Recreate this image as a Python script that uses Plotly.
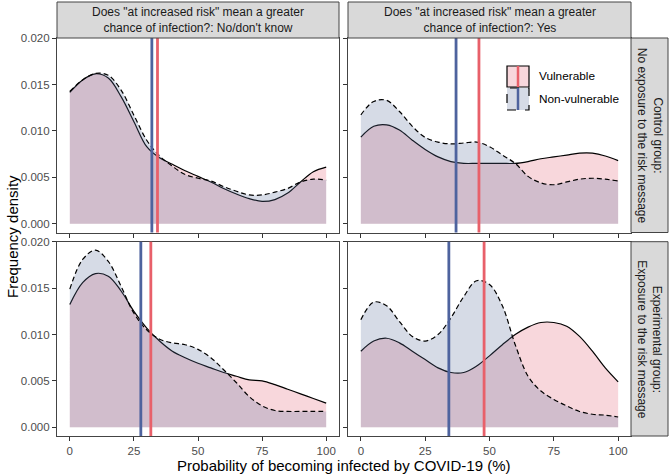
import plotly.graph_objects as go

# ---------------- data ----------------
x_grid = [0, 5, 10, 15, 20, 25, 30, 35, 40, 45, 50, 55, 60, 65, 70, 75, 80, 85, 90, 95, 100]

# Control group, No/don't know
tl_vul = [0.01415, 0.0155, 0.01616, 0.0157, 0.0137, 0.0110, 0.0083, 0.0071, 0.0064, 0.0057, 0.0051,
          0.0045, 0.0038, 0.0032, 0.0027, 0.0024, 0.0026, 0.0033, 0.0045, 0.0056, 0.0061]
tl_non = [0.01425, 0.0155, 0.0162, 0.0160, 0.0144, 0.0117, 0.0090, 0.0073, 0.0062, 0.0053, 0.0049,
          0.0046, 0.0040, 0.0035, 0.0031, 0.0031, 0.0034, 0.0038, 0.0045, 0.0048, 0.0047]
# Control group, Yes
tr_vul = [0.00934, 0.0105, 0.01066, 0.0101, 0.0090, 0.0080, 0.0072, 0.0067, 0.0065, 0.0065, 0.0065,
          0.0065, 0.0065, 0.0067, 0.0070, 0.0072, 0.0074, 0.0076, 0.0076, 0.0073, 0.0068]
tr_non = [0.01174, 0.01318, 0.0133, 0.0121, 0.0105, 0.0093, 0.0088, 0.0086, 0.0087, 0.0088, 0.0083,
          0.0074, 0.0065, 0.0051, 0.0044, 0.0042, 0.0045, 0.0048, 0.0049, 0.0048, 0.0046]
# Experimental group, No/don't know
bl_vul = [0.01324, 0.0156, 0.01658, 0.0163, 0.0147, 0.0125, 0.0107, 0.0093, 0.0082, 0.0075, 0.0069,
          0.0064, 0.0059, 0.0055, 0.0051, 0.0050, 0.0046, 0.0041, 0.0036, 0.0031, 0.0026]
bl_non = [0.0149, 0.0181, 0.0191, 0.0179, 0.0152, 0.0123, 0.0105, 0.0095, 0.0091, 0.0089, 0.0084,
          0.0075, 0.0062, 0.0048, 0.0033, 0.0023, 0.0018, 0.0017, 0.0017, 0.0017, 0.0017]
# Experimental group, Yes
br_vul = [0.0082, 0.0093, 0.0096, 0.0091, 0.0082, 0.0073, 0.0064, 0.0059, 0.0059, 0.0066, 0.0077,
          0.0089, 0.0100, 0.0108, 0.0113, 0.0113, 0.0109, 0.0098, 0.0082, 0.0064, 0.0049]
br_non = [0.0116, 0.0135, 0.0131, 0.0114, 0.0098, 0.0093, 0.0100, 0.0118, 0.0141, 0.0158, 0.0154,
          0.0131, 0.0089, 0.0055, 0.0039, 0.0030, 0.0023, 0.0017, 0.0014, 0.0013, 0.0011]

# means (vertical lines): [TL, TR, BL, BR]
mean_vul = [34.2, 45.9, 31.6, 47.9]
mean_non = [32.0, 37.0, 27.7, 34.2]

col_titles = ['Does "at increased risk" mean a greater<br>chance of infection?: No/don\'t know',
              'Does "at increased risk" mean a greater<br>chance of infection?: Yes']
row_titles = ['Control group:<br>No exposure to the risk message',
              'Experimental group:<br>Exposure to the risk message']
group_labels = ['Vulnerable', 'Non-vulnerable']
x_ticks = [0, 25, 50, 75, 100]
y_ticks = [0.0, 0.005, 0.010, 0.015, 0.020]
x_title = "Probability of becoming infected by COVID-19 (%)"
y_title = "Frequency density"

# ---------------- styling ----------------
FONT = "Liberation Sans, Arial, sans-serif"
VUL_FILL = "rgba(227,95,115,0.25)"
NON_FILL = "rgba(91,111,155,0.25)"
VUL_LINE = "#E8606A"
NON_LINE = "#4E639E"
BORDER = "#444444"

W, H = 670, 475
ML, MR, MT, MB = 57, 39, 38, 39
PW, PH = W - ML - MR, H - MT - MB
x_dom = [[0, 282 / PW], [291 / PW, 1]]
y_dom = [[(436 - 232.5) / PH, 1], [0, (436 - 241.7) / PH]]

fig = go.Figure()

panels = [(tl_vul, tl_non), (tr_vul, tr_non), (bl_vul, bl_non), (br_vul, br_non)]
for i, (vul, non) in enumerate(panels):
    xa = "x" if i == 0 else f"x{i+1}"
    ya = "y" if i == 0 else f"y{i+1}"
    for vals, fill, dash in [(vul, VUL_FILL, "solid"), (non, NON_FILL, "5px,3px")]:
        fig.add_trace(go.Scatter(x=x_grid, y=vals, xaxis=xa, yaxis=ya, mode="lines",
                                 fill="tozeroy", fillcolor=fill,
                                 line=dict(width=0, shape="spline", smoothing=1.0),
                                 hoverinfo="skip", showlegend=False))
        fig.add_trace(go.Scatter(x=x_grid, y=vals, xaxis=xa, yaxis=ya, mode="lines",
                                 line=dict(color="black", width=1.2, dash=dash,
                                           shape="spline", smoothing=1.0),
                                 hoverinfo="skip", showlegend=False))
    for m, c in [(mean_non[i], NON_LINE), (mean_vul[i], VUL_LINE)]:
        fig.add_shape(type="line", xref=xa, yref=f"{ya} domain", x0=m, x1=m, y0=0, y1=1,
                      line=dict(color=c, width=2.8), layer="above")

layout = dict(width=W, height=H, margin=dict(l=ML, r=MR, t=MT, b=MB),
              paper_bgcolor="white", plot_bgcolor="white", showlegend=False,
              font=dict(family=FONT, color="black"))
for i in range(4):
    r, c = divmod(i, 2)
    sx = "" if i == 0 else str(i + 1)
    layout[f"xaxis{sx}"] = dict(domain=x_dom[c], anchor=f"y{sx}", range=[-5, 105],
                               tickvals=x_ticks, showticklabels=(r == 1),
                               ticks="outside", ticklen=4, tickcolor="#333333", tickwidth=1,
                               tickfont=dict(size=11.5, color="#4D4D4D", family=FONT),
                               showline=True, mirror=True, linecolor=BORDER, linewidth=1.2,
                               showgrid=False, zeroline=False, fixedrange=True)
    layout[f"yaxis{sx}"] = dict(domain=y_dom[r], anchor=f"x{sx}", range=[-0.00095, 0.02002],
                               tickvals=y_ticks, tickformat=".3f", showticklabels=(c == 0),
                               ticks="outside", ticklen=4, tickcolor="#333333", tickwidth=1,
                               tickfont=dict(size=11.5, color="#4D4D4D", family=FONT),
                               showline=True, mirror=True, linecolor=BORDER, linewidth=1.2,
                               showgrid=False, zeroline=False, fixedrange=True)
fig.update_layout(**layout)

# strips
strip_h = 36 / PH
strip_w = 37 / PW
for c in range(2):
    fig.add_shape(type="rect", xref="paper", yref="paper", x0=x_dom[c][0], x1=x_dom[c][1],
                  y0=1, y1=1 + strip_h, fillcolor="#D9D9D9", line=dict(color=BORDER, width=1))
    fig.add_annotation(xref="paper", yref="paper", x=(x_dom[c][0] + x_dom[c][1]) / 2,
                       y=1 + strip_h / 2, text=col_titles[c], showarrow=False,
                       font=dict(size=12, color="#1A1A1A", family=FONT), align="center",
                       xanchor="center", yanchor="middle")
for r in range(2):
    fig.add_shape(type="rect", xref="paper", yref="paper", x0=1, x1=1 + strip_w,
                  y0=y_dom[r][0], y1=y_dom[r][1], fillcolor="#D9D9D9", line=dict(color=BORDER, width=1))
    fig.add_annotation(xref="paper", yref="paper", x=1 + strip_w / 2,
                       y=(y_dom[r][0] + y_dom[r][1]) / 2, text=row_titles[r], showarrow=False,
                       textangle=90, font=dict(size=12, color="#1A1A1A", family=FONT),
                       align="center", xanchor="center", yanchor="middle")

# axis titles
fig.add_annotation(xref="paper", yref="paper", x=(343.5 - ML) / PW, y=(436 - 465) / PH,
                   text=x_title, showarrow=False, font=dict(size=15, family=FONT),
                   xanchor="center", yanchor="middle")
fig.add_annotation(xref="paper", yref="paper", x=(12 - ML) / PW, y=0.5, text=y_title,
                   showarrow=False, textangle=-90, font=dict(size=15, family=FONT),
                   xanchor="center", yanchor="middle")

# legend (drawn manually inside top-right panel)
def px_x(p):
    return (p - ML) / PW

def px_y(p):
    return (436 - p) / PH

leg_items = [(group_labels[0], VUL_FILL, "solid", VUL_LINE, 66, 87),
             (group_labels[1], NON_FILL, "dash", NON_LINE, 88, 110)]
for label, fill, dash, lc, top, bot in leg_items:
    fig.add_shape(type="rect", xref="paper", yref="paper", x0=px_x(507), x1=px_x(529),
                  y0=px_y(bot), y1=px_y(top), fillcolor=fill,
                  line=dict(color="black", width=1.2, dash=dash))
    fig.add_shape(type="line", xref="paper", yref="paper", x0=px_x(518), x1=px_x(518),
                  y0=px_y(bot), y1=px_y(top), line=dict(color=lc, width=2.5))
    fig.add_annotation(xref="paper", yref="paper", x=px_x(537), y=px_y((top + bot) / 2),
                       text=label, showarrow=False, font=dict(size=11.8, color="black", family=FONT),
                       xanchor="left", yanchor="middle")

fig.write_html("out.html", config={"displayModeBar": False},
               post_script="document.body.style.margin='0';document.body.style.padding='0';")
